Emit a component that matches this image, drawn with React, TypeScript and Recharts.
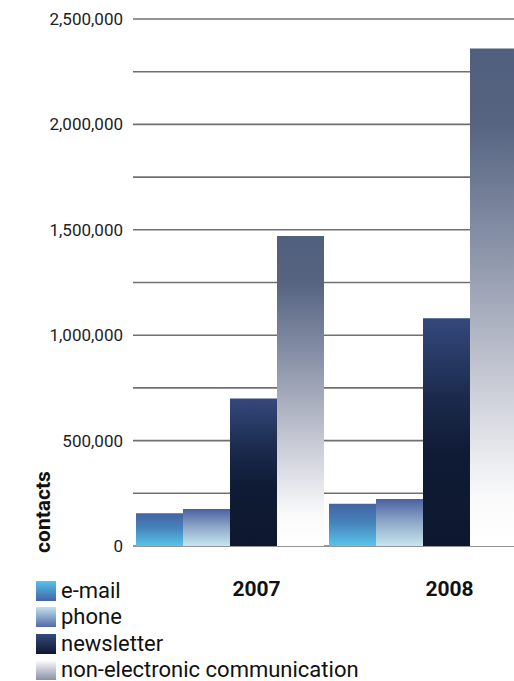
import React from "react";
import { BarChart, Bar, XAxis, YAxis, CartesianGrid } from "recharts";

const years = ["2007", "2008"];
const email = [155000, 200000];
const phone = [175000, 223000];
const newsletter = [700000, 1080000];
const nonElectronic = [1470000, 2360000];
const yTicks = [0, 250000, 500000, 750000, 1000000, 1250000, 1500000, 1750000, 2000000, 2250000, 2500000];

const data = years.map((year, i) => ({
  year,
  email: email[i],
  phone: phone[i],
  newsletter: newsletter[i],
  nonElectronic: nonElectronic[i],
}));

const legendItems = [
  { label: "e-mail", swatch: "linear-gradient(#55c3e9, #4463a6)" },
  { label: "phone", swatch: "linear-gradient(#c3e3ee, #5169a6)" },
  { label: "newsletter", swatch: "linear-gradient(#34497c, #0e1830)" },
  { label: "non-electronic communication", swatch: "linear-gradient(#ffffff, #8790a6)" },
];

const formatTick = (v: number) => (v % 500000 === 0 ? v.toLocaleString("en-US") : "");

const YearTick = (props: any) => {
  const { x, y, payload } = props;
  return (
    <text
      x={x + 27}
      y={y + 42}
      textAnchor="middle"
      fontFamily="Roboto"
      fontWeight={700}
      fontSize={21}
      fill="#111"
    >
      {payload.value}
    </text>
  );
};

const App = () => {
  return (
    <div
      style={{
        position: "fixed",
        left: 0,
        top: 0,
        width: 514,
        height: 681,
        overflow: "hidden",
        background: "#fff",
      }}
    >
      <BarChart
        width={520}
        height={681}
        data={data}
        margin={{ top: 19, right: 1, left: 0, bottom: 95 }}
        barCategoryGap={3}
        barGap={0}
      >
        <defs>
          <linearGradient id="gEmail" x1="0" y1="0" x2="0" y2="1">
            <stop offset="0%" stopColor="#4463a3" />
            <stop offset="45%" stopColor="#4683bb" />
            <stop offset="100%" stopColor="#57c5ea" />
          </linearGradient>
          <linearGradient id="gPhone" x1="0" y1="0" x2="0" y2="1">
            <stop offset="0%" stopColor="#4a61a0" />
            <stop offset="45%" stopColor="#8aa3c6" />
            <stop offset="100%" stopColor="#c6e6f0" />
          </linearGradient>
          <linearGradient id="gNews" x1="0" y1="0" x2="0" y2="1">
            <stop offset="0%" stopColor="#34497c" />
            <stop offset="35%" stopColor="#1b2a4c" />
            <stop offset="60%" stopColor="#0f1a34" />
            <stop offset="100%" stopColor="#0d1830" />
          </linearGradient>
          <linearGradient id="gNon" x1="0" y1="0" x2="0" y2="1">
            <stop offset="0%" stopColor="#515f7e" />
            <stop offset="15%" stopColor="#566481" />
            <stop offset="40%" stopColor="#8a93a8" />
            <stop offset="60%" stopColor="#b8bcc9" />
            <stop offset="80%" stopColor="#e4e6eb" />
            <stop offset="90%" stopColor="#fafafb" />
            <stop offset="100%" stopColor="#ffffff" />
          </linearGradient>
        </defs>
        <CartesianGrid vertical={false} stroke="#707070" strokeWidth={1.6} />
        <XAxis
          dataKey="year"
          axisLine={false}
          tickLine={false}
          height={40}
          tick={<YearTick />}
        />
        <YAxis
          width={133}
          domain={[0, 2500000]}
          ticks={yTicks}
          interval={0}
          axisLine={false}
          tickLine={false}
          tickSize={6}
          tickMargin={4}
          tickFormatter={formatTick}
          tick={{ fontFamily: "Roboto", fontSize: 17, fill: "#222" }}
          label={{
            content: () => (
              <text
                x={50}
                y={512}
                transform="rotate(-90 50 512)"
                textAnchor="middle"
                fontFamily="Roboto"
                fontWeight={700}
                fontSize={21}
                fill="#111"
              >
                contacts
              </text>
            ),
          }}
        />
        <Bar dataKey="email" fill="url(#gEmail)" isAnimationActive={false} />
        <Bar dataKey="phone" fill="url(#gPhone)" isAnimationActive={false} />
        <Bar dataKey="newsletter" fill="url(#gNews)" isAnimationActive={false} />
        <Bar dataKey="nonElectronic" fill="url(#gNon)" isAnimationActive={false} />
      </BarChart>
      <div style={{ position: "absolute", left: 36, top: 578, fontFamily: "Roboto", fontWeight: 400, fontSize: 22, color: "#111" }}>
        {legendItems.map((item) => (
          <div key={item.label} style={{ display: "flex", alignItems: "center", height: 26.3 }}>
            <span style={{ width: 20, height: 20, background: item.swatch, marginRight: 5 }} />
            <span style={{ lineHeight: "20px" }}>{item.label}</span>
          </div>
        ))}
      </div>
    </div>
  );
};

export default App;
